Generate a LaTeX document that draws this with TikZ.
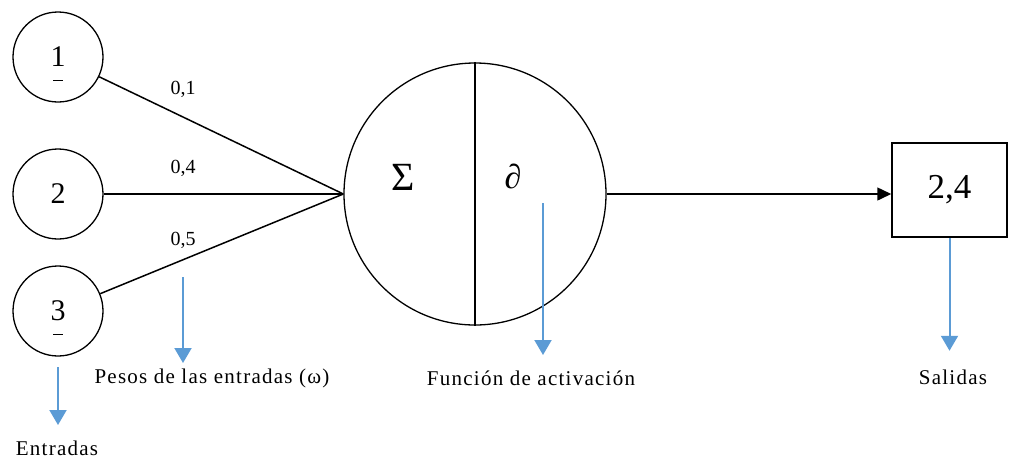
\documentclass[tikz,border=0pt]{standalone}
\usepackage{fontspec}
\setmainfont{Liberation Serif}
\usetikzlibrary{arrows.meta}
\definecolor{lblue}{RGB}{91,155,213}
\begin{document}
\begin{tikzpicture}[x=1pt,y=-1pt,
  inp/.style={draw,circle,line width=1.3pt,minimum size=90pt,inner sep=0pt,font=\fontsize{30}{30}\selectfont},
  conn/.style={line width=1.5pt},
  wlab/.style={font=\fontsize{20}{20}\selectfont,inner sep=0pt},
  txt/.style={font=\fontsize{21}{21}\selectfont\addfontfeature{LetterSpace=6},inner sep=0pt},
  bluearr/.style={draw=lblue,line width=2pt,-{Triangle[length=15pt,width=17pt,fill=lblue]}},
  dashmark/.style={line width=0.8pt}]
\useasboundingbox (0,0) rectangle (1010,459);
% input neurons
\node[inp] (c1) at (58,57) {1};
\node[inp] (c2) at (58,194) {2};
\node[inp] (c3) at (58,311) {3};
\draw[dashmark] ([xshift=-5pt,yshift=-23pt]c1.center) -- ([xshift=5pt,yshift=-23pt]c1.center);
\draw[dashmark] ([xshift=-5pt,yshift=-23pt]c3.center) -- ([xshift=5pt,yshift=-23pt]c3.center);
% neuron
\node[draw,circle,line width=1.3pt,minimum size=262pt,inner sep=0pt] (nn) at (475,194) {};
\draw[line width=1.3pt] (nn.north) -- (nn.south);
\node[font=\fontsize{40}{40}\selectfont,inner sep=0pt] (sig) at (403,177) {Σ};
\node[font=\fontsize{34}{34}\selectfont\itshape,inner sep=0pt] (par) at (513,176) {∂};
\coordinate (conv) at (nn.west);
\draw[conn] (c1) -- (conv);
\draw[conn] (c2) -- (conv);
\draw[conn] (c3) -- (conv);
\node[wlab] (w1) at (183,89) {0,1};
\node[wlab] (w2) at (183,168) {0,4};
\node[wlab] (w3) at (183,240) {0,5};
% output
\node[draw,line width=1.5pt,minimum width=115pt,minimum height=94pt,inner sep=0pt,font=\fontsize{35}{35}\selectfont] (out) at (949.5,190) {2,4};
\draw[conn,-{Triangle[length=14pt,width=13pt]}] (nn.east) -- (nn.east -| out.west);
% annotations
\coordinate (a1s) at (58,367);
\node[txt] (t1) at (57,448) {Entradas};
\draw[bluearr] (a1s) -- ++(0,58);
\coordinate (a2s) at (183,277);
\node[txt] (t2) at (212,378) {Pesos de las entradas (ω)};
\draw[bluearr] (a2s) -- ++(0,86);
\coordinate (a3s) at (543,203);
\node[txt] (t3) at (531,378) {Función de activación};
\draw[bluearr] (a3s) -- ++(0,152);
\node[txt] (t4) at (953,377) {Salidas};
\draw[bluearr] (out.south) -- ++(0,113);
\end{tikzpicture}
\end{document}
